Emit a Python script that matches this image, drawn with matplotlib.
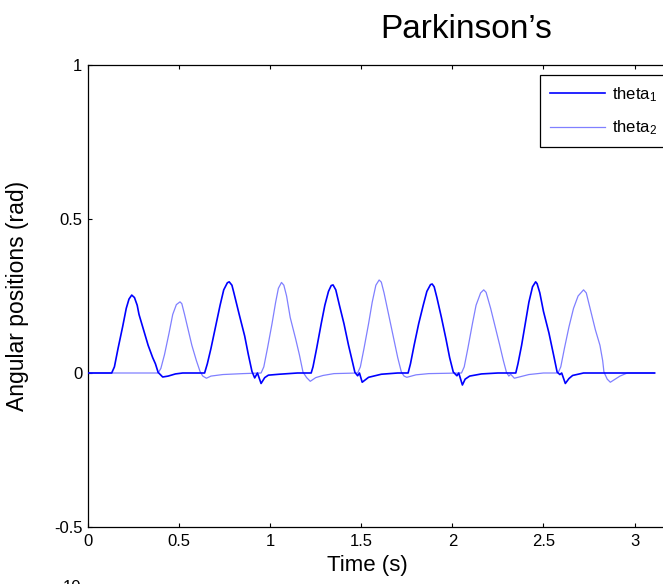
import matplotlib
matplotlib.use("Agg")
import matplotlib.pyplot as plt

plt.rcParams['font.family'] = ['Liberation Sans', 'DejaVu Sans']
plt.rcParams['mathtext.default'] = 'regular'

# Joint angle trajectories (time in s, angle in rad)
t1 = [0.0, 0.13, 0.145, 0.165, 0.19, 0.21, 0.225, 0.24, 0.255, 0.27, 0.28, 0.30, 0.33, 0.355, 0.37,
      0.385, 0.41, 0.44, 0.48, 0.52, 0.64,
      0.655, 0.675, 0.70, 0.725, 0.745, 0.765, 0.775, 0.79, 0.80, 0.83, 0.86, 0.88, 0.90, 0.915,
      0.93, 0.95, 0.97, 0.99, 1.05, 1.15, 1.225,
      1.235, 1.255, 1.28, 1.30, 1.32, 1.335, 1.345, 1.36, 1.38, 1.405, 1.43, 1.45, 1.465, 1.48,
      1.49, 1.505, 1.54, 1.61, 1.70, 1.757,
      1.77, 1.79, 1.815, 1.84, 1.86, 1.88, 1.889, 1.90, 1.915, 1.94, 1.965, 1.985, 2.005, 2.025,
      2.035, 2.055, 2.07, 2.095, 2.16, 2.25, 2.348,
      2.36, 2.38, 2.40, 2.42, 2.44, 2.457, 2.465, 2.48, 2.50, 2.53, 2.555, 2.575, 2.59, 2.60,
      2.62, 2.64, 2.66, 2.72, 3.11]
theta1 = [0.0, 0.0, 0.02, 0.08, 0.15, 0.21, 0.24, 0.253, 0.245, 0.22, 0.19, 0.15, 0.09, 0.05, 0.03,
          0.002, -0.013, -0.01, -0.003, 0.0, 0.0,
          0.03, 0.08, 0.15, 0.22, 0.27, 0.293, 0.296, 0.285, 0.262, 0.19, 0.12, 0.06, 0.005, -0.016,
          0.0, -0.034, -0.015, -0.007, -0.004, 0.0, 0.0,
          0.02, 0.08, 0.16, 0.22, 0.265, 0.284, 0.286, 0.27, 0.22, 0.16, 0.09, 0.04, 0.002, -0.009,
          0.0, -0.03, -0.014, -0.004, 0.0, 0.0,
          0.03, 0.09, 0.16, 0.22, 0.265, 0.287, 0.289, 0.28, 0.245, 0.18, 0.11, 0.05, 0.003, -0.009,
          0.0, -0.039, -0.02, -0.01, -0.003, 0.0, 0.0,
          0.03, 0.09, 0.16, 0.23, 0.28, 0.296, 0.29, 0.26, 0.20, 0.13, 0.06, 0.003, -0.005, 0.0,
          -0.034, -0.018, -0.008, 0.0, 0.0]

t2 = [0.0, 0.385, 0.40, 0.42, 0.445, 0.465, 0.485, 0.505, 0.515, 0.53, 0.55, 0.57, 0.595, 0.615,
      0.63, 0.65, 0.675, 0.74, 0.85, 0.95,
      0.965, 0.985, 1.01, 1.03, 1.045, 1.062, 1.075, 1.09, 1.11, 1.14, 1.16, 1.18, 1.20, 1.22,
      1.25, 1.29, 1.35, 1.48,
      1.495, 1.515, 1.54, 1.56, 1.58, 1.598, 1.61, 1.625, 1.65, 1.675, 1.70, 1.72, 1.735, 1.75,
      1.80, 1.87, 2.05,
      2.065, 2.085, 2.11, 2.13, 2.155, 2.172, 2.185, 2.21, 2.235, 2.26, 2.28, 2.297, 2.31, 2.32,
      2.34, 2.42, 2.5, 2.58,
      2.595, 2.615, 2.64, 2.665, 2.69, 2.72, 2.735, 2.76, 2.785, 2.81, 2.825, 2.832, 2.85, 2.867,
      2.92, 2.96, 3.11]
theta2 = [0.0, 0.0, 0.015, 0.06, 0.13, 0.19, 0.222, 0.231, 0.225, 0.19, 0.14, 0.09, 0.04, 0.005,
          -0.01, -0.017, -0.01, -0.005, -0.002, 0.0,
          0.02, 0.08, 0.16, 0.23, 0.275, 0.294, 0.285, 0.25, 0.18, 0.11, 0.06, 0.003, -0.015, -0.027,
          -0.015, -0.008, -0.002, 0.0,
          0.02, 0.08, 0.16, 0.23, 0.285, 0.302, 0.295, 0.26, 0.19, 0.12, 0.05, 0.003, -0.01, -0.014,
          -0.006, -0.002, 0.0,
          0.02, 0.08, 0.16, 0.22, 0.26, 0.27, 0.262, 0.21, 0.15, 0.09, 0.04, 0.002, -0.01, -0.004,
          -0.017, -0.005, 0.0, 0.0,
          0.02, 0.08, 0.15, 0.21, 0.25, 0.27, 0.26, 0.20, 0.14, 0.09, 0.04, 0.003, -0.02, -0.03,
          -0.01, 0.0, 0.0]

x_ticks = [0, 0.5, 1, 1.5, 2, 2.5, 3]
x_ticklabels = ['0', '0.5', '1', '1.5', '2', '2.5', '3']
y_ticks = [-0.5, 0, 0.5, 1]
y_ticklabels = ['-0.5', '0', '0.5', '1']

W, H = 663, 584
fig = plt.figure(figsize=(W / 100, H / 100), dpi=100)
ax = fig.add_axes([88 / W, 57 / H, 583 / W, 462 / H])

l2, = ax.plot(t2, theta2, color='#8080ff', lw=0.9, zorder=2)
l1, = ax.plot(t1, theta1, color='#0000ff', lw=1.2, zorder=3)

ax.set_xlim(0, 3.2)
ax.set_ylim(-0.5, 1)
ax.set_xticks(x_ticks)
ax.set_xticklabels(x_ticklabels)
ax.set_yticks(y_ticks)
ax.set_yticklabels(y_ticklabels)
ax.tick_params(direction='in', length=3, width=0.8, labelsize=12, top=True, right=False)
ax.tick_params(axis='x', pad=5)
ax.tick_params(axis='y', pad=4)
ax.spines['right'].set_visible(False)
for s in ('top', 'bottom', 'left'):
    ax.spines[s].set_linewidth(0.9)

ax.set_xlabel('Time (s)', fontsize=16)
ax.set_ylabel('Angular positions (rad)', fontsize=16.5)
ax.xaxis.set_label_coords((367 - 88) / 583, -(566 - 527) / 462, transform=ax.transAxes)
ax.xaxis.label.set_va('center')
ax.yaxis.set_label_coords(-(88 - 18) / 583, 0.5, transform=ax.transAxes)
ax.yaxis.label.set_va('center')

fig.text(466 / W, 1 - 30 / H, 'Parkinson\u2019s', fontsize=24, ha='center', va='center')

leg = ax.legend([l1, l2], [r'theta$_1$', r'theta$_2$'], loc='upper left',
                bbox_to_anchor=(540 / W, 1 - 75 / H), bbox_transform=fig.transFigure,
                fontsize=12, handlelength=3.3, handletextpad=0.4, labelspacing=0.9,
                borderpad=0.6, borderaxespad=0, fancybox=False, framealpha=1,
                edgecolor='black')
leg.get_frame().set_linewidth(0.9)

fig.text(72 / W, 1 - 580 / H, '10', fontsize=12, ha='center', va='top')

fig.savefig('out.png', dpi=100)
